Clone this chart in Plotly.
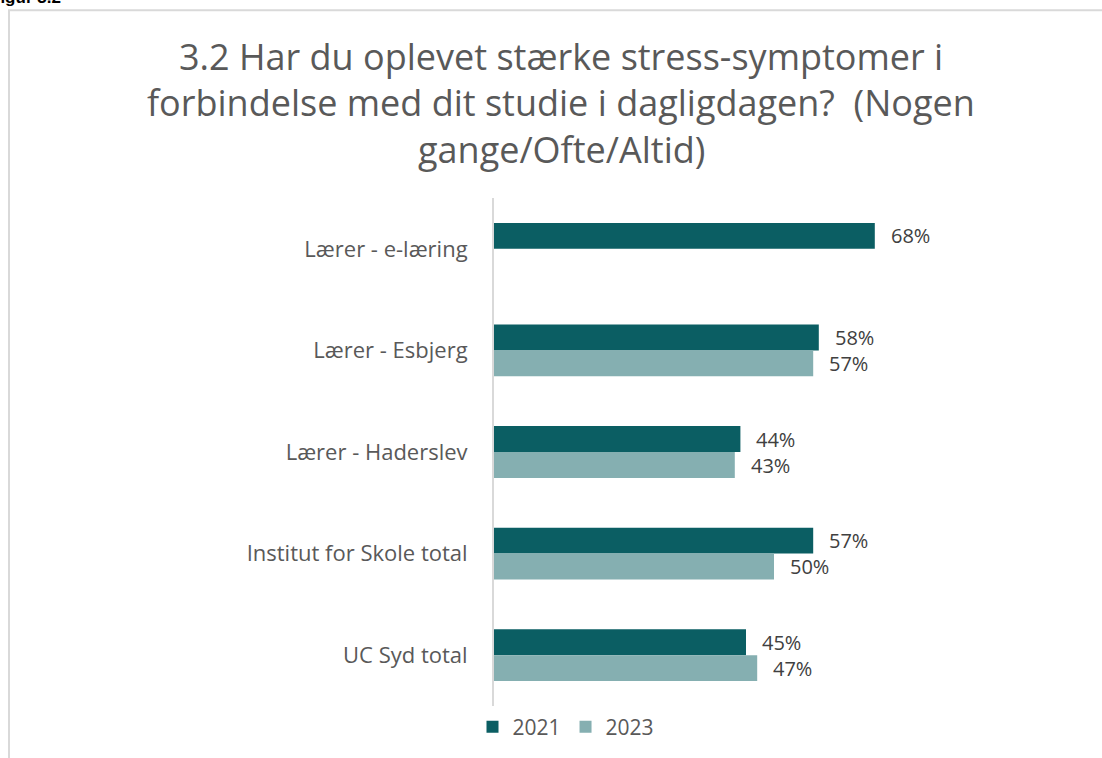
import plotly.graph_objects as go

categories = ["Lærer - e-læring", "Lærer - Esbjerg", "Lærer - Haderslev",
              "Institut for Skole total", "UC Syd total"]
series_names = ["2021", "2023"]
values_2021 = [68, 58, 44, 57, 45]
values_2023 = [None, 57, 43, 50, 47]
colors = ["#0b5e63", "#85afb1"]
title_lines = ["3.2 Har du oplevet stærke stress-symptomer i",
               "forbindelse med dit studie i dagligdagen?  (Nogen",
               "gange/Ofte/Altid)"]

W, H = 1102, 758
L, T, B = 494, 198, 51
XMAX = 80
PW = 448
R = W - L - PW
PH = H - T - B

FONT = "'Open Sans', Lato, sans-serif"

fig = go.Figure()
for name, vals, col in zip(series_names, [values_2021, values_2023], colors):
    fig.add_trace(go.Bar(y=categories, x=vals, name=name, orientation="h",
                         marker=dict(color=col, line=dict(width=0)),
                         hoverinfo="x+y"))

annotations = []
for vals, shift in [(values_2021, 13), (values_2023, -13)]:
    for c, v in zip(categories, vals):
        if v is None:
            continue
        annotations.append(dict(x=v, y=c, xref="x", yref="y", text=f"{v}%",
                                showarrow=False, xanchor="left", yanchor="middle",
                                xshift=14, yshift=shift,
                                font=dict(size=20, color="#404040", family=FONT)))

def px_x(p):
    return (p - L) / PW

def px_y(p):
    return (H - B - p) / PH

for i, line in enumerate(title_lines):
    annotations.append(dict(x=px_x(561), y=px_y(56 + 46.5 * i), xref="paper", yref="paper",
                            text=line, showarrow=False, xanchor="center", yanchor="middle",
                            font=dict(size=36, color="#595959", family=FONT)))

annotations.append(dict(x=px_x(-12), y=px_y(-3), xref="paper", yref="paper",
                        text="<b>Figur 3.2</b>", showarrow=False, xanchor="left",
                        yanchor="middle", font=dict(size=17, color="#000000",
                                                    family="Liberation Sans, Arial")))

shapes = [
    dict(type="line", xref="paper", yref="paper", x0=px_x(8), x1=px_x(W + 5),
         y0=px_y(10), y1=px_y(10), line=dict(color="#d9d9d9", width=2)),
    dict(type="line", xref="paper", yref="paper", x0=px_x(9), x1=px_x(9),
         y0=px_y(10), y1=px_y(H + 5), line=dict(color="#d9d9d9", width=2)),
]

fig.update_layout(
    width=W, height=H,
    margin=dict(l=L, r=R, t=T, b=B, pad=0),
    paper_bgcolor="white", plot_bgcolor="white",
    barmode="group", bargap=0.49, bargroupgap=0,
    showlegend=True,
    legend=dict(orientation="h", x=px_x(566), xanchor="center",
                y=px_y(727), yanchor="middle",
                font=dict(size=21, color="#595959", family=FONT),
                itemwidth=30, traceorder="normal"),
    annotations=annotations,
    shapes=shapes,
    font=dict(family=FONT, color="#595959"),
)
fig.update_xaxes(range=[0, XMAX], showgrid=False, zeroline=False, showticklabels=False,
                 showline=False, fixedrange=True)
fig.update_yaxes(autorange="reversed", showgrid=False, showline=True, linecolor="#d9d9d9",
                 linewidth=2, ticks="", ticklabelstandoff=20,
                 tickfont=dict(size=22, color="#595959", family=FONT))

fig.write_html("out.html", config={"displayModeBar": False},
               post_script="document.body.style.margin='0px';")
